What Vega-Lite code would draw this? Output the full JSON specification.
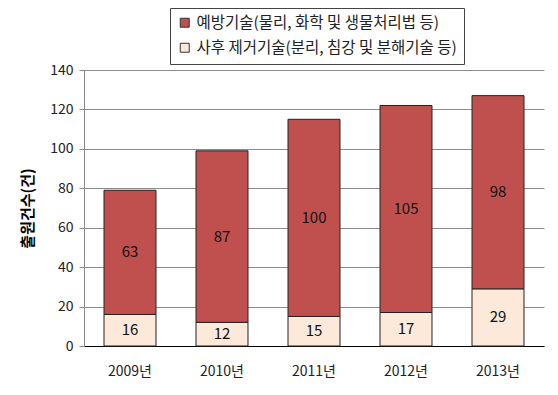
{
  "$schema": "https://vega.github.io/schema/vega-lite/v6.json",
  "width": 460,
  "height": 276,
  "autosize": {"type": "none"},
  "padding": {"left": 84, "top": 70, "right": 14, "bottom": 49},
  "background": "white",
  "config": {
    "font": "Noto Sans CJK KR",
    "view": {"stroke": null}
  },
  "data": {
    "values": [
      {"year": "2009년", "type": "사후 제거기술(분리, 침강 및 분해기술 등)", "ord": 1, "count": 16},
      {"year": "2009년", "type": "예방기술(물리, 화학 및 생물처리법 등)", "ord": 2, "count": 63},
      {"year": "2010년", "type": "사후 제거기술(분리, 침강 및 분해기술 등)", "ord": 1, "count": 12},
      {"year": "2010년", "type": "예방기술(물리, 화학 및 생물처리법 등)", "ord": 2, "count": 87},
      {"year": "2011년", "type": "사후 제거기술(분리, 침강 및 분해기술 등)", "ord": 1, "count": 15},
      {"year": "2011년", "type": "예방기술(물리, 화학 및 생물처리법 등)", "ord": 2, "count": 100},
      {"year": "2012년", "type": "사후 제거기술(분리, 침강 및 분해기술 등)", "ord": 1, "count": 17},
      {"year": "2012년", "type": "예방기술(물리, 화학 및 생물처리법 등)", "ord": 2, "count": 105},
      {"year": "2013년", "type": "사후 제거기술(분리, 침강 및 분해기술 등)", "ord": 1, "count": 29},
      {"year": "2013년", "type": "예방기술(물리, 화학 및 생물처리법 등)", "ord": 2, "count": 98}
    ]
  },
  "transform": [
    {"stack": "count", "groupby": ["year"], "sort": [{"field": "ord", "order": "ascending"}], "as": ["y0", "y1"]},
    {"calculate": "(datum.y0 + datum.y1) / 2", "as": "ymid"}
  ],
  "encoding": {
    "x": {
      "field": "year", "type": "nominal", "title": null,
      "scale": {"paddingInner": 0.435, "paddingOuter": 0.2175},
      "axis": {"labelAngle": 0, "ticks": false, "domainColor": "#000000", "domainWidth": 1.2, "labelFontSize": 14, "labelColor": "#222222", "labelPadding": 18, "labelFont": "Noto Sans CJK KR"}
    }
  },
  "layer": [
    {
      "mark": {"type": "bar", "stroke": "#222222", "strokeWidth": 1},
      "encoding": {
        "y": {
          "field": "y0", "type": "quantitative",
          "scale": {"domain": [0, 140], "nice": false},
          "axis": {"values": [0, 20, 40, 60, 80, 100, 120, 140], "labelOverlap": false, "title": "출원건수(건)", "titleFontSize": 15, "titleFontWeight": "bold", "titleColor": "#000000", "titlePadding": 14, "labelFontSize": 14, "labelColor": "#222222", "labelPadding": 6, "tickSize": 5, "tickColor": "#888888", "domainColor": "#888888", "gridColor": "#8c8c8c", "gridWidth": 1}
        },
        "y2": {"field": "y1"},
        "fill": {
          "field": "type", "type": "nominal",
          "scale": {"domain": ["예방기술(물리, 화학 및 생물처리법 등)", "사후 제거기술(분리, 침강 및 분해기술 등)"], "range": ["#C0504D", "#FDE9D9"]},
          "legend": {
            "title": null, "orient": "none", "legendX": 86, "legendY": -62,
            "direction": "vertical", "symbolType": "square", "symbolSize": 80, "symbolStrokeColor": "#333333", "symbolStrokeWidth": 1,
            "labelFontSize": 15.5, "labelColor": "#222222", "labelLimit": 500, "labelOffset": 4, "rowPadding": 8, "symbolOffset": 0,
            "fillColor": "white", "strokeColor": "#444444", "padding": 7
          }
        }
      }
    },
    {
      "mark": {"type": "text", "fontSize": 15, "color": "#111111", "baseline": "middle"},
      "encoding": {
        "y": {
          "field": "ymid", "type": "quantitative",
          "axis": {"values": [0, 20, 40, 60, 80, 100, 120, 140], "labelOverlap": false, "title": "출원건수(건)", "titleFontSize": 15, "titleFontWeight": "bold", "titleColor": "#000000", "titlePadding": 14, "labelFontSize": 14, "labelColor": "#222222", "labelPadding": 6, "tickSize": 5, "tickColor": "#888888", "domainColor": "#888888", "gridColor": "#8c8c8c", "gridWidth": 1}
        },
        "text": {"field": "count", "type": "quantitative"}
      }
    }
  ]
}
